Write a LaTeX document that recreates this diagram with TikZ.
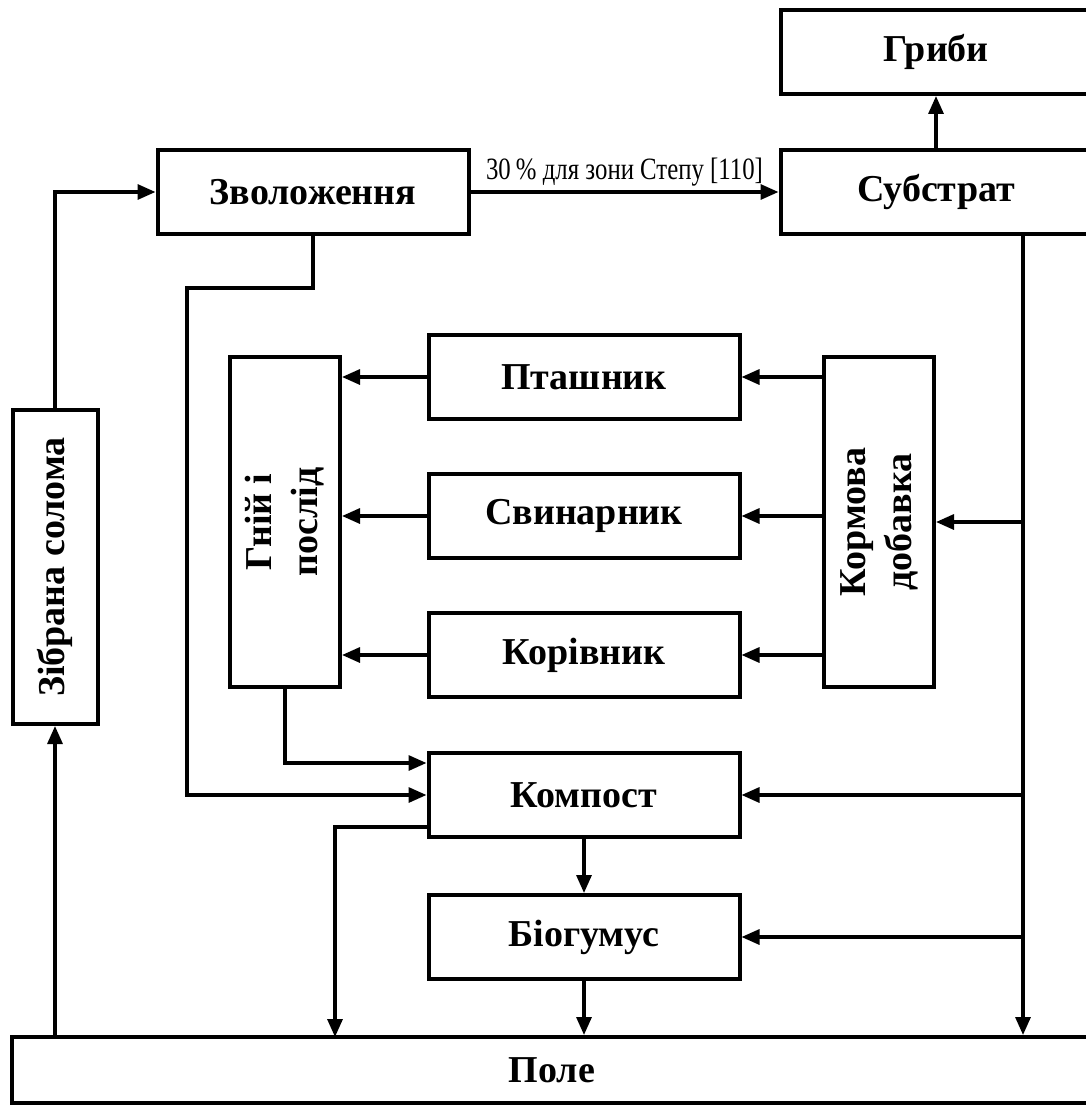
\documentclass[tikz,border=0pt]{standalone}
\usepackage{fontspec}
\setmainfont{Liberation Serif}
\newfontfamily\narrowfont[FakeStretch=0.8]{Liberation Serif}
\usetikzlibrary{arrows.meta}

\begin{document}
\begin{tikzpicture}[x=1pt,y=-1pt,>={Triangle[length=18pt,width=15pt]},line width=3.2pt]
        \tikzstyle{box}=[draw,line width=4pt,inner sep=0pt,align=center,
            font=\fontsize{38}{46}\selectfont\bfseries]
        \tikzstyle{hbox}=[box,minimum width=311pt,minimum height=84pt]
        \tikzstyle{vbox}=[box,rotate=90,minimum width=330pt,minimum height=110pt]
        \useasboundingbox (0,0) rectangle (1085,1105);
        \node[hbox] (hryby) at (936,52) {Гриби};
        \node[hbox] (substrat) at (936,192) {Субстрат};
        \node[hbox] (zvol) at (313,192) {Зволоження};
        \node[box,rotate=90,minimum width=314pt,minimum height=85pt] (soloma) at (55,567) {Зібрана солома};
        \node[vbox] (hnij) at (285,522) {Гній і\\послід};
        \node[vbox] (korm) at (879,522) {Кормова\\добавка};
        \node[hbox] (ptash) at (584,377) {Пташник};
        \node[hbox] (svyn) at (584,516) {Свинарник};
        \node[hbox] (koriv) at (584,655) {Корівник};
        \node[hbox] (kompost) at (584,795) {Компост};
        \node[hbox] (biohum) at (584,937) {Біогумус};
        \node[box,minimum width=1080pt,minimum height=66pt] (pole) at (552,1070) {Поле};
        \coordinate (s1) at (1023,235);
        \coordinate (z1) at (187,288);
        \coordinate (p1) at (335,1037);
        \draw[->] (substrat.north) -- (hryby.south);
        \draw[->] (zvol.east) -- node[above=4pt,inner sep=0pt,font=\narrowfont\fontsize{31}{34}\selectfont]
            {30\,\% для зони Степу [110]} (substrat.west);
        \draw[->] (soloma.east) |- (zvol.west);
        \draw[->] (pole.north -| soloma.west) -- (soloma.west);
        \draw[->] (zvol.south) |- (z1) |- (kompost.west);
        \draw[->] (s1) -- (s1 |- pole.north);
        \draw[->] (s1 |- korm.south) -- (korm.south);
        \draw[->] (s1 |- kompost.east) -- (kompost.east);
        \draw[->] (s1 |- biohum.east) -- (biohum.east);
        \draw[->] (korm.north |- ptash.east) -- (ptash.east);
        \draw[->] (korm.north |- svyn.east) -- (svyn.east);
        \draw[->] (korm.north |- koriv.east) -- (koriv.east);
        \draw[->] (ptash.west) -- (ptash.west -| hnij.south);
        \draw[->] (svyn.west) -- (svyn.west -| hnij.south);
        \draw[->] (koriv.west) -- (koriv.west -| hnij.south);
        \draw[->] (hnij.west) |- ([yshift=32pt]kompost.west);
        \draw[->] ([yshift=-32pt]kompost.west) -| (p1);
        \draw[->] (kompost.south) -- (biohum.north);
        \draw[->] (biohum.south) -- (biohum.south |- pole.north);
\end{tikzpicture}
\end{document}
